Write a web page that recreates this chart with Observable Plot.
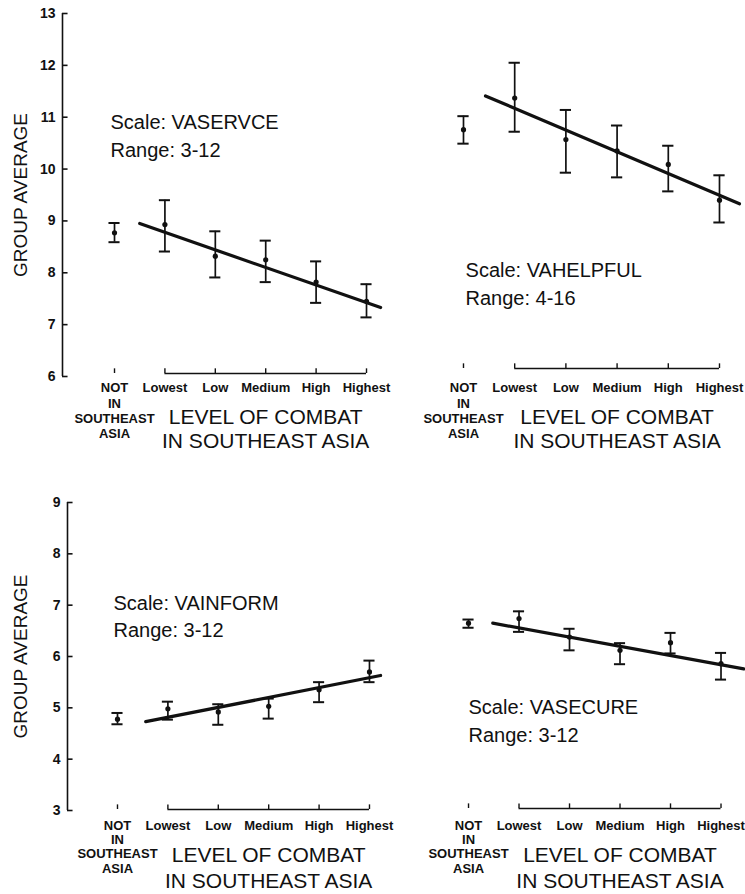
<!DOCTYPE html>
<html><head><meta charset="utf-8">
<script src="https://cdn.jsdelivr.net/npm/d3@7"></script>
<script src="https://cdn.jsdelivr.net/npm/@observablehq/plot@0.6"></script>
<style>
body{margin:0;background:#fff;}
#chart{position:relative;width:745px;height:894px;overflow:hidden;background:#fff;}
.panel{position:absolute;}
</style></head><body><div id="chart"></div>
<script>
// ---- data ----
const levelIndex = [0, 1, 2, 3, 4, 5];
const levelLabels = ["NOT\nIN\nSOUTHEAST\nASIA", "Lowest", "Low", "Medium", "High", "Highest"];
const topTicks = [6, 7, 8, 9, 10, 11, 12, 13];
const bottomTicks = [3, 4, 5, 6, 7, 8, 9];
const xTitle = "LEVEL OF COMBAT\nIN SOUTHEAST ASIA";
const yTitle = "GROUP AVERAGE";

const vaservceMean = [8.77, 8.93, 8.32, 8.25, 7.82, 7.45];
const vaservceLow  = [8.59, 8.41, 7.91, 7.82, 7.42, 7.14];
const vaservceHigh = [8.96, 9.40, 8.80, 8.62, 8.22, 7.78];
const vaservceFitX = [0.5, 5.28];
const vaservceFitY = [8.95, 7.33];

const vahelpfulMean = [10.76, 11.37, 10.57, 10.35, 10.09, 9.40];
const vahelpfulLow  = [10.49, 10.72, 9.93, 9.84, 9.57, 8.97];
const vahelpfulHigh = [11.02, 12.05, 11.14, 10.84, 10.45, 9.88];
const vahelpfulFitX = [0.43, 5.39];
const vahelpfulFitY = [11.41, 9.33];

const vainformMean = [4.78, 4.98, 4.92, 5.03, 5.35, 5.70];
const vainformLow  = [4.68, 4.77, 4.67, 4.79, 5.11, 5.50];
const vainformHigh = [4.90, 5.12, 5.07, 5.18, 5.50, 5.92];
const vainformFitX = [0.56, 5.22];
const vainformFitY = [4.73, 5.63];

const vasecureMean = [6.65, 6.74, 6.38, 6.12, 6.27, 5.86];
const vasecureLow  = [6.56, 6.48, 6.12, 5.85, 6.06, 5.55];
const vasecureHigh = [6.72, 6.88, 6.54, 6.26, 6.46, 6.07];
const vasecureFitX = [0.48, 5.45];
const vasecureFitY = [6.65, 5.76];

const scaleNames = ["Scale: VASERVCE", "Scale: VAHELPFUL", "Scale: VAINFORM", "Scale: VASECURE"];
const rangeNames = ["Range: 3-12", "Range: 4-16", "Range: 3-12", "Range: 3-12"];

// ---- drawing ----
const FONT = "'Liberation Sans', Arial, Helvetica, sans-serif";
const INK = "#111";

function panel(o) {
  const rows = levelIndex.map(i => ({i, mean: o.mean[i], lo: o.low[i], hi: o.high[i]}));
  const fit = o.fitX.map((x, k) => ({x, y: o.fitY[k]}));
  const [x0] = o.xDomain;
  const [y0, y1] = o.yDomain;
  const marks = [];
  if (o.showY) {
    marks.push(
      Plot.ruleX([x0], {y1: y0, y2: y1, stroke: INK, strokeWidth: 1.6}),
      Plot.ruleY(o.yTicks, {x1: x0, x2: x0 + 0.11, y: d => d, stroke: INK, strokeWidth: 1.6}),
      Plot.text(o.yTicks, {x: x0, y: d => d, text: d => String(d), dx: -7, textAnchor: "end", fontSize: 14, fontWeight: "bold", fill: INK}),
      Plot.text([yTitle], {frameAnchor: "left", dx: o.yTitleDx, rotate: -90, textAnchor: "middle", fontSize: 19, fill: INK})
    );
  }
  // custom x axis: bracket + ticks
  marks.push(
    Plot.ruleY([y0], {x1: 1, x2: 5, dy: o.bracketDy, stroke: INK, strokeWidth: 1.4}),
    Plot.ruleX(levelIndex, {x: d => d, y1: y0, y2: y0 + 0.09, dy: o.bracketDy, stroke: INK, strokeWidth: 1.4}),
    Plot.text(levelIndex, {x: d => d, y: y0, text: i => levelLabels[i], lineAnchor: "top", dy: o.labelDy,
      fontSize: 13, fontWeight: "bold", lineHeight: o.labelLH, fill: INK}),
    Plot.text([xTitle], {x: 3, y: y0, lineAnchor: "top", dy: o.titleDy, fontSize: 21, lineHeight: o.titleLH, fill: INK})
  );
  // error bars
  marks.push(
    Plot.ruleX(rows, {x: "i", y1: "lo", y2: "hi", stroke: INK, strokeWidth: 1.7}),
    Plot.ruleY(rows, {y: "hi", x1: d => d.i - 0.11, x2: d => d.i + 0.11, stroke: INK, strokeWidth: 2}),
    Plot.ruleY(rows, {y: "lo", x1: d => d.i - 0.11, x2: d => d.i + 0.11, stroke: INK, strokeWidth: 2}),
    Plot.dot(rows, {x: "i", y: "mean", r: 2.6, fill: INK, stroke: "none"}),
    Plot.line(fit, {x: "x", y: "y", stroke: INK, strokeWidth: 3.2, strokeLinecap: "round"})
  );
  // annotation
  marks.push(
    Plot.text([o.scale], {x: o.annX, y: o.annY1, textAnchor: "start", fontSize: 20, fill: INK}),
    Plot.text([o.range], {x: o.annX, y: o.annY2, textAnchor: "start", fontSize: 20, fill: INK})
  );
  const svg = Plot.plot({
    width: o.width, height: o.height,
    marginLeft: o.marginLeft, marginRight: 0, marginTop: o.marginTop, marginBottom: o.marginBottom,
    x: {domain: o.xDomain, axis: null},
    y: {domain: o.yDomain, axis: null},
    style: {fontFamily: FONT, background: "transparent", overflow: "visible", color: INK},
    marks
  });
  const div = document.createElement("div");
  div.className = "panel";
  div.style.left = o.left + "px";
  div.style.top = o.top + "px";
  div.appendChild(svg);
  document.getElementById("chart").appendChild(div);
}

const topRow = {height: 450, marginTop: 13, marginBottom: 74, yDomain: [6, 13], yTicks: topTicks,
  labelDy: 5, labelLH: 1.17, titleDy: 31, titleLH: 1.12};
const botRow = {height: 444, marginTop: 52, marginBottom: 84, yDomain: [3, 9], yTicks: bottomTicks,
  labelDy: 9, labelLH: 1.1, titleDy: 32, titleLH: 1.28};

panel({...topRow, left: 0, top: 0, width: 390, marginLeft: 62, xDomain: [-1.032, 5.476], showY: true, yTitleDx: -42,
  bracketDy: -3, mean: vaservceMean, low: vaservceLow, high: vaservceHigh, fitX: vaservceFitX, fitY: vaservceFitY,
  scale: scaleNames[0], range: rangeNames[0], annX: -0.08, annY1: 10.90, annY2: 10.36});
panel({...topRow, left: 380, top: 0, width: 365, marginLeft: 30, xDomain: [-1.035, 5.508], showY: false,
  bracketDy: -8, mean: vahelpfulMean, low: vahelpfulLow, high: vahelpfulHigh, fitX: vahelpfulFitX, fitY: vahelpfulFitY,
  scale: scaleNames[1], range: rangeNames[1], annX: 0.04, annY1: 8.05, annY2: 7.51});
panel({...botRow, left: 0, top: 450, width: 390, marginLeft: 67, xDomain: [-0.992, 5.417], showY: true, yTitleDx: -47,
  bracketDy: -1, mean: vainformMean, low: vainformLow, high: vainformHigh, fitX: vainformFitX, fitY: vainformFitY,
  scale: scaleNames[2], range: rangeNames[2], annX: -0.08, annY1: 7.03, annY2: 6.51});
panel({...botRow, left: 380, top: 450, width: 365, marginLeft: 30, xDomain: [-1.149, 5.485], showY: false,
  bracketDy: -2, mean: vasecureMean, low: vasecureLow, high: vasecureHigh, fitX: vasecureFitX, fitY: vasecureFitY,
  scale: scaleNames[3], range: rangeNames[3], annX: 0.0, annY1: 5.01, annY2: 4.46});
</script>
</body></html>
